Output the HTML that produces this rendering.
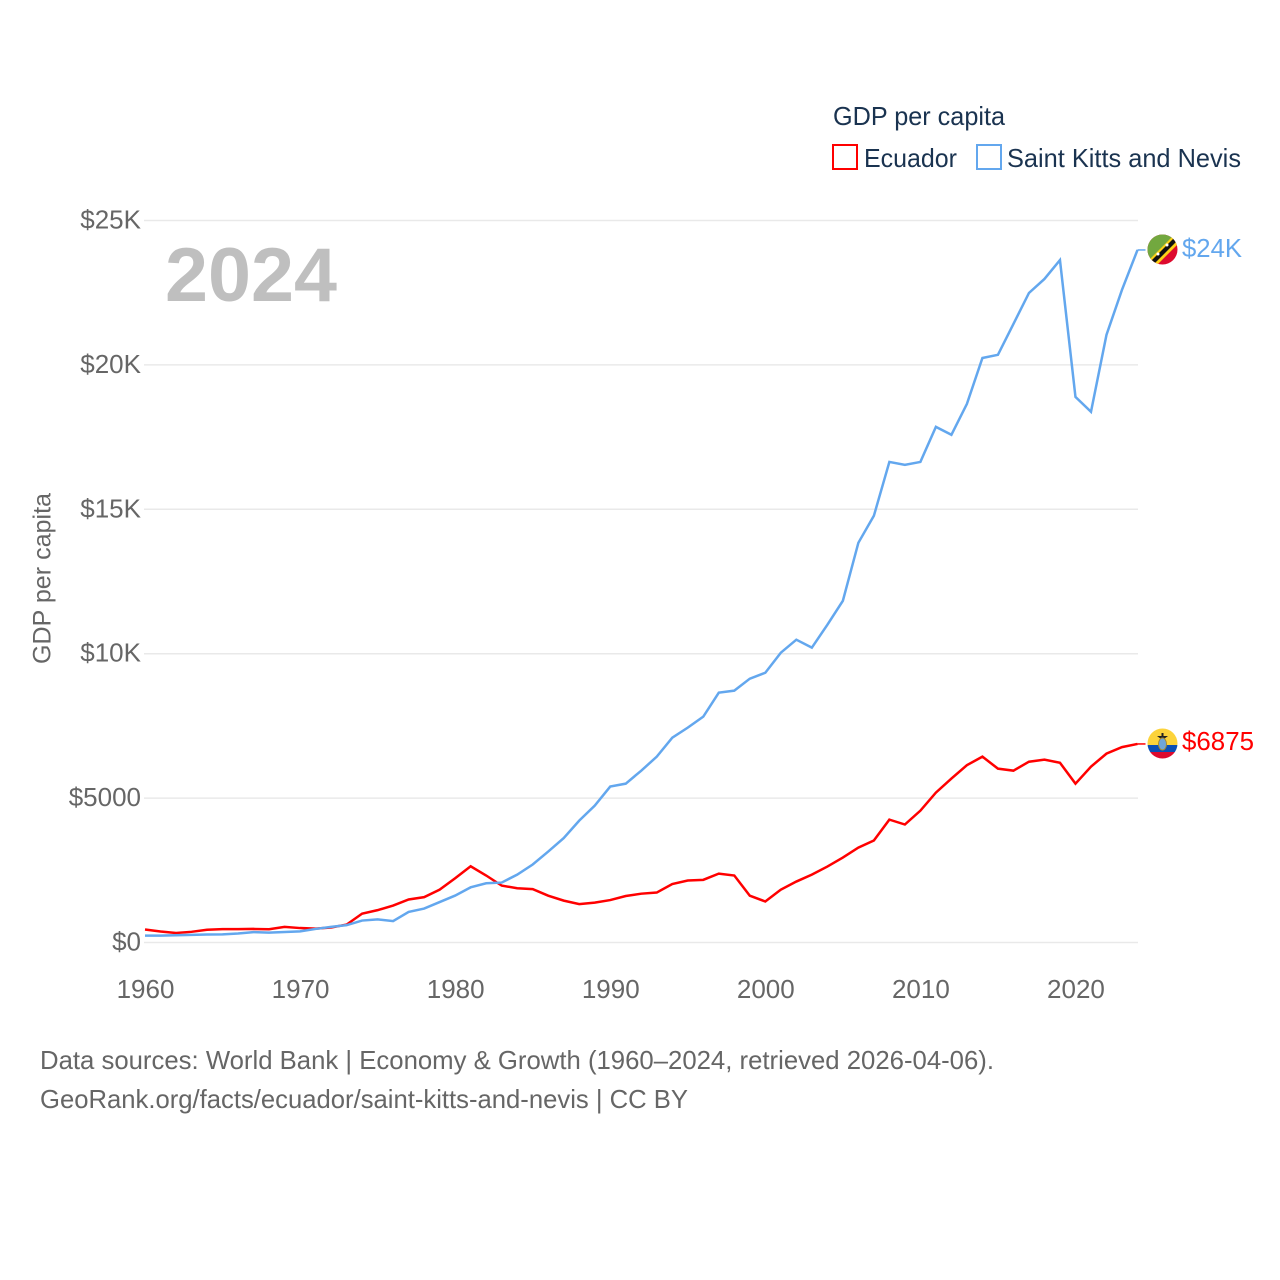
<!DOCTYPE html>
<html lang="en">
<head>
<meta charset="utf-8">
<title>GDP per capita: Ecuador vs Saint Kitts and Nevis</title>
<style>
html,body{margin:0;padding:0;background:#fff;width:1280px;height:1280px;overflow:hidden}
svg{display:block}
text{font-family:"Liberation Sans",sans-serif}
</style>
</head>
<body>
<svg id="chart" xmlns="http://www.w3.org/2000/svg" width="1280" height="1280" viewBox="0 0 1280 1280">
  <defs>
    <clipPath id="clip-kn"><circle cx="1162.5" cy="249.5" r="15"/></clipPath>
    <clipPath id="clip-ec"><circle cx="1162.5" cy="743.5" r="15"/></clipPath>
  </defs>
  <g id="grid"></g>
  <g id="y-axis"></g>
  <g id="x-axis"></g>
  <g id="series"></g>

  <text x="165" y="301" font-size="76" font-weight="700" fill="#bfbfbf" textLength="172" lengthAdjust="spacingAndGlyphs">2024</text>
  <text transform="translate(50.5,664) rotate(-90)" font-size="25" fill="#666" textLength="171" lengthAdjust="spacingAndGlyphs">GDP per capita</text>

  <g>
    <text x="833" y="125" font-size="26" fill="#1a3350" textLength="172" lengthAdjust="spacingAndGlyphs">GDP per capita</text>
    <g>
      <rect x="833" y="145" width="24" height="24" fill="#fff" stroke="#ff0000" stroke-width="2"/>
      <text x="864" y="167" font-size="26" fill="#1a3350" textLength="93" lengthAdjust="spacingAndGlyphs">Ecuador</text>
    </g>
    <g>
      <rect x="977" y="145" width="24" height="24" fill="#fff" stroke="#63a7ee" stroke-width="2"/>
      <text x="1007" y="167" font-size="26" fill="#1a3350" textLength="234" lengthAdjust="spacingAndGlyphs">Saint Kitts and Nevis</text>
    </g>
  </g>

  <g clip-path="url(#clip-kn)">
    <rect x="1147" y="234" width="31" height="31" fill="#dd0a2e"/>
    <polygon points="1147,234 1178,234 1147,265" fill="#72a83f"/>
    <polygon points="1147,262 1175,234 1182,234 1182,240 1153,269 1147,269" fill="#fcd116"/>
    <polygon points="1149,263 1176,236 1179,239 1152,266" fill="#111"/>
    <circle cx="1158" cy="254" r="1.5" fill="#fff"/>
    <circle cx="1167" cy="245" r="1.5" fill="#fff"/>
  </g>
  <g clip-path="url(#clip-ec)">
    <rect x="1147" y="728" width="31" height="17" fill="#fcd33a"/>
    <rect x="1147" y="745" width="31" height="7" fill="#0a4fb5"/>
    <rect x="1147" y="752" width="31" height="8" fill="#dd0a2e"/>
    <polygon points="1157,736 1168,736 1164,739 1161,739" fill="#222"/>
    <rect x="1161.5" y="733" width="2" height="4" fill="#222"/>
    <ellipse cx="1162.5" cy="744" rx="4" ry="6" fill="#6fa6d8" stroke="#a98c2e" stroke-width="1"/>
  </g>

  <text x="1182" y="257" font-size="26" fill="#63a7ee" textLength="60" lengthAdjust="spacingAndGlyphs">$24K</text>
  <text x="1182" y="750" font-size="26" fill="#ff0000" textLength="72" lengthAdjust="spacingAndGlyphs">$6875</text>

  <g>
    <text x="40" y="1069" font-size="26" fill="#666" textLength="954" lengthAdjust="spacingAndGlyphs">Data sources: World Bank | Economy &amp; Growth (1960–2024, retrieved 2026-04-06).</text>
    <text x="40" y="1108" font-size="26" fill="#666" textLength="648" lengthAdjust="spacingAndGlyphs">GeoRank.org/facts/ecuador/saint-kitts-and-nevis | CC BY</text>
  </g>
</svg>
<script>
const years = [1960,1961,1962,1963,1964,1965,1966,1967,1968,1969,1970,1971,1972,1973,1974,1975,1976,1977,1978,1979,1980,1981,1982,1983,1984,1985,1986,1987,1988,1989,1990,1991,1992,1993,1994,1995,1996,1997,1998,1999,2000,2001,2002,2003,2004,2005,2006,2007,2008,2009,2010,2011,2012,2013,2014,2015,2016,2017,2018,2019,2020,2021,2022,2023,2024];
const ecuador = [450,380,330,370,440,465,465,470,460,540,500,480,520,620,1000,1120,1280,1490,1570,1830,2225,2640,2320,1970,1880,1850,1620,1450,1330,1380,1470,1610,1690,1730,2025,2145,2170,2385,2320,1620,1420,1830,2110,2350,2630,2940,3285,3530,4255,4085,4565,5190,5675,6140,6435,6020,5950,6260,6330,6225,5500,6090,6540,6765,6875];
const saintKitts = [240,240,250,265,275,280,310,360,340,365,385,470,540,600,760,800,740,1060,1175,1400,1625,1910,2050,2075,2350,2700,3150,3615,4220,4740,5400,5500,5950,6435,7090,7440,7820,8650,8720,9135,9340,10035,10485,10210,11000,11830,13840,14775,16640,16540,16640,17855,17580,18650,20240,20350,21420,22490,22975,23630,18890,18375,21040,22600,23980];
const yTicks = [0,5000,10000,15000,20000,25000];
const yTickLabels = ['$0','$5000','$10K','$15K','$20K','$25K'];
const xTicks = [1960,1970,1980,1990,2000,2010,2020];

const NS = 'http://www.w3.org/2000/svg';
const xScale = function (year) { return 145 + (year - 1960) * (1137.5 - 145) / 64; };
const yScale = function (value) { return 942.5 - value * (942.5 - 220.5) / 25000; };

const gridGroup = document.getElementById('grid');
const yGroup = document.getElementById('y-axis');
const xGroup = document.getElementById('x-axis');
const seriesGroup = document.getElementById('series');

yTicks.forEach(function (tick, i) {
  const line = document.createElementNS(NS, 'line');
  
  
  line.setAttribute('x1', 144);
  line.setAttribute('x2', 1138);
  line.setAttribute('y1', yScale(tick));
  line.setAttribute('y2', yScale(tick));
  line.setAttribute('stroke', '#e9e9e9');
  line.setAttribute('stroke-width', 1.5);
  gridGroup.appendChild(line);

  const label = document.createElementNS(NS, 'text');
  
  
  label.setAttribute('x', 141);
  label.setAttribute('y', yScale(tick) + 8);
  label.setAttribute('text-anchor', 'end');
  label.setAttribute('font-size', 26);
  label.setAttribute('fill', '#666');
  label.textContent = yTickLabels[i];
  yGroup.appendChild(label);
});

xTicks.forEach(function (tick) {
  const label = document.createElementNS(NS, 'text');
  
  
  label.setAttribute('x', xScale(tick) + 0.5);
  label.setAttribute('y', 998);
  label.setAttribute('text-anchor', 'middle');
  label.setAttribute('font-size', 26);
  label.setAttribute('fill', '#666');
  label.textContent = tick;
  xGroup.appendChild(label);
});

function linePoints(values) {
  return values.map(function (v, i) {
    return xScale(years[i]).toFixed(2) + ',' + yScale(v).toFixed(2);
  }).join(' ');
}

const ecuadorLine = document.createElementNS(NS, 'polyline');


ecuadorLine.setAttribute('points', linePoints(ecuador));
ecuadorLine.setAttribute('fill', 'none');
ecuadorLine.setAttribute('stroke', '#ff0000');
ecuadorLine.setAttribute('stroke-width', 2.5);
ecuadorLine.setAttribute('stroke-linejoin', 'miter');
seriesGroup.appendChild(ecuadorLine);

const kittsLine = document.createElementNS(NS, 'polyline');


kittsLine.setAttribute('points', linePoints(saintKitts));
kittsLine.setAttribute('fill', 'none');
kittsLine.setAttribute('stroke', '#63a7ee');
kittsLine.setAttribute('stroke-width', 2.5);
kittsLine.setAttribute('stroke-linejoin', 'miter');
seriesGroup.appendChild(kittsLine);

const lastIndex = years.length - 1;
const ecuadorStub = document.createElementNS(NS, 'line');


ecuadorStub.setAttribute('x1', xScale(years[lastIndex]));
ecuadorStub.setAttribute('x2', xScale(years[lastIndex]) + 8);
ecuadorStub.setAttribute('y1', yScale(ecuador[lastIndex]));
ecuadorStub.setAttribute('y2', yScale(ecuador[lastIndex]));
ecuadorStub.setAttribute('stroke', '#ff0000');
ecuadorStub.setAttribute('stroke-width', 1.5);
seriesGroup.appendChild(ecuadorStub);

const kittsStub = document.createElementNS(NS, 'line');


kittsStub.setAttribute('x1', xScale(years[lastIndex]));
kittsStub.setAttribute('x2', xScale(years[lastIndex]) + 8);
kittsStub.setAttribute('y1', yScale(saintKitts[lastIndex]));
kittsStub.setAttribute('y2', yScale(saintKitts[lastIndex]));
kittsStub.setAttribute('stroke', '#63a7ee');
kittsStub.setAttribute('stroke-width', 1.5);
seriesGroup.appendChild(kittsStub);
</script>
</body>
</html>
